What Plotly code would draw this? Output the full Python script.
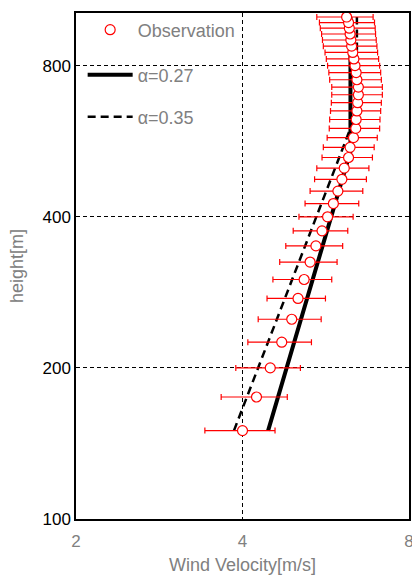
import math
import plotly.graph_objects as go

# Observed mean wind speed profile with standard deviation
heights = [150, 175, 200, 225, 250, 275, 300, 325, 350, 375, 400, 425, 450,
           475, 500, 525, 550, 575, 600, 625, 650, 675, 700, 725, 750, 775,
           800, 825, 850, 875, 900, 925, 950, 975, 1000]
velocity = [4.00, 4.24, 4.49, 4.71, 4.91, 5.04, 5.17, 5.30, 5.43, 5.57, 5.70,
            5.84, 5.95, 6.05, 6.11, 6.22, 6.26, 6.35, 6.41, 6.42, 6.44, 6.46,
            6.48, 6.48, 6.44, 6.42, 6.39, 6.36, 6.33, 6.30, 6.28, 6.26, 6.24,
            6.22, 6.17]
velocity_sd = [0.58, 0.58, 0.60, 0.62, 0.64, 0.61, 0.63, 0.63, 0.64, 0.63,
               0.64, 0.65, 0.65, 0.65, 0.66, 0.65, 0.66, 0.66, 0.67, 0.67,
               0.67, 0.67, 0.68, 0.68, 0.69, 0.69, 0.69, 0.69, 0.69, 0.70,
               0.70, 0.70, 0.71, 0.71, 0.72]

# Power-law profiles (straight on log-log axes), constant above gradient height
law027_heights = [150, 540, 1000]
law027_velocity = [4.45, 6.27, 6.27]
law035_heights = [150, 648, 1000]
law035_velocity = [3.86, 6.44, 6.44]

x_ticks = [2, 4, 8]
y_ticks = [100, 200, 400, 800]

FONT = "Liberation Sans, Arial, sans-serif"
GRAY = "#808080"

fig = go.Figure()

fig.add_trace(go.Scatter(
    x=law027_velocity, y=law027_heights, mode="lines", name="α=0.27",
    line=dict(color="black", width=4), legend="legend2",
))
fig.add_trace(go.Scatter(
    x=law035_velocity, y=law035_heights, mode="lines", name="α=0.35",
    line=dict(color="black", width=2.5, dash="8px,5px"), legend="legend3",
))
fig.add_trace(go.Scatter(
    x=velocity, y=heights, mode="markers", name="Observation",
    marker=dict(symbol="circle", size=10, color="white",
                line=dict(color="red", width=1.2)),
    error_x=dict(type="data", array=velocity_sd, symmetric=True,
                 color="red", thickness=1.2, width=3),
    legend="legend",
))

axis_common = dict(
    showline=True, linecolor="black", linewidth=1.5, mirror=True,
    showgrid=True, gridcolor="black", gridwidth=1, griddash="4px,3px",
    zeroline=False, ticks="", automargin=False, ticklabeloverflow="allow",
)

fig.update_xaxes(
    type="log", range=[math.log10(2), math.log10(8)],
    tickvals=x_ticks, ticktext=[str(v) for v in x_ticks],
    tickfont=dict(family=FONT, size=17, color=GRAY), ticklabelstandoff=6,
    title=dict(text="Wind Velocity[m/s]", font=dict(family=FONT, size=18, color=GRAY),
               standoff=14),
    **axis_common,
)
fig.update_yaxes(
    type="log", range=[2, 3.008],
    tickvals=y_ticks, ticktext=[str(v) for v in y_ticks],
    tickfont=dict(family=FONT, size=17, color="black"),
    title=dict(text="height[m]", font=dict(family=FONT, size=18, color=GRAY),
               standoff=14),
    **axis_common,
)


def legend_box(ypos):
    return dict(
        x=0.02, y=ypos, xanchor="left", yanchor="top",
        bgcolor="rgba(0,0,0,0)", borderwidth=0,
        font=dict(family=FONT, size=18, color=GRAY), itemwidth=45,
    )


fig.update_layout(
    width=412, height=575,
    margin=dict(l=76, r=3, t=13, b=56),
    paper_bgcolor="white", plot_bgcolor="white",
    showlegend=True,
    legend=legend_box(1.003),
    legend2=legend_box(0.914),
    legend3=legend_box(0.831),
)

fig.write_html("out.html")
